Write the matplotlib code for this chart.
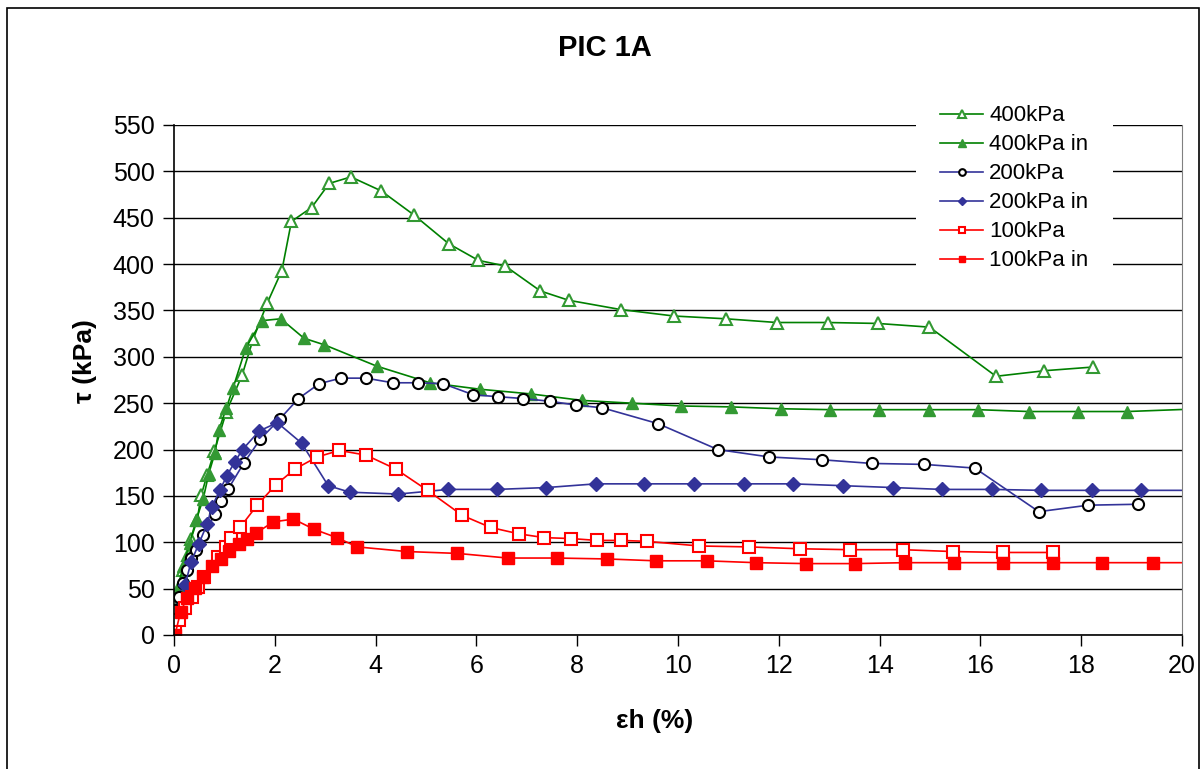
import matplotlib
matplotlib.use('Agg')
import matplotlib.pyplot as plt
from matplotlib.patches import Rectangle

plt.rcParams['font.family'] = ['Liberation Sans', 'DejaVu Sans']

# 400kPa (open triangles)
e_400 = [0.0, 0.05, 0.11, 0.18, 0.28, 0.34, 0.46, 0.54, 0.66, 0.80, 1.04, 1.35, 1.57,
         1.85, 2.14, 2.33, 2.73, 3.08, 3.51, 4.11, 4.76, 5.45, 6.04, 6.57, 7.27, 7.83,
         8.86, 9.92, 10.95, 11.96, 12.97, 13.96, 14.99, 16.31, 17.27, 18.24]
t_400 = [13, 27, 48, 70, 86, 104, 124, 151, 173, 198, 241, 280, 319,
         358, 393, 446, 461, 487, 494, 479, 453, 422, 404, 398, 371, 361,
         351, 344, 341, 337, 337, 336, 332, 279, 285, 289]

# 400kPa in (filled triangles)
e_400in = [0.0, 0.03, 0.08, 0.18, 0.31, 0.44, 0.58, 0.69, 0.81, 0.89, 1.04, 1.17, 1.42,
           1.74, 2.12, 2.58, 2.98, 4.02, 5.08, 6.08, 7.08, 8.09, 9.08, 10.05, 11.05,
           12.04, 13.02, 13.99, 14.99, 15.96, 16.96, 17.94, 18.91, 20.4]
t_400in = [13, 27, 52, 74, 99, 124, 147, 174, 196, 221, 245, 266, 309,
           339, 341, 320, 313, 290, 272, 265, 260, 253, 250, 247, 246,
           244, 243, 243, 243, 243, 241, 241, 241, 244]

# 200kPa (open circles)
e_200 = [0.0, 0.02, 0.09, 0.18, 0.26, 0.34, 0.44, 0.58, 0.82, 0.94, 1.07, 1.38, 1.71,
         2.10, 2.47, 2.88, 3.31, 3.81, 4.34, 4.85, 5.34, 5.94, 6.43, 6.93, 7.47, 7.97,
         8.50, 9.60, 10.79, 11.81, 12.85, 13.85, 14.88, 15.89, 17.16, 18.14, 19.13]
t_200 = [14, 27, 41, 56, 70, 83, 92, 108, 131, 144, 157, 185, 211,
         233, 255, 271, 277, 277, 272, 272, 271, 259, 257, 255, 252, 248,
         245, 228, 200, 192, 189, 185, 184, 180, 133, 140, 141]

# 200kPa in (diamonds)
e_200in = [0.22, 0.34, 0.49, 0.66, 0.75, 0.91, 1.05, 1.21, 1.36, 1.69, 2.05, 2.53, 3.06,
           3.49, 4.45, 5.44, 6.40, 7.39, 8.37, 9.33, 10.32, 11.30, 12.28, 13.28, 14.27,
           15.24, 16.24, 17.21, 18.21, 19.18, 20.4]
t_200in = [54, 79, 98, 120, 138, 156, 172, 187, 200, 220, 229, 207, 161,
           154, 152, 157, 157, 159, 163, 163, 163, 163, 163, 161, 159,
           157, 157, 156, 156, 156, 156]

# 100kPa (open squares)
e_100 = [0.02, 0.09, 0.22, 0.35, 0.47, 0.60, 0.88, 1.03, 1.14, 1.31, 1.65, 2.02, 2.40,
         2.84, 3.28, 3.81, 4.40, 5.03, 5.72, 6.28, 6.85, 7.35, 7.88, 8.39, 8.87, 9.38,
         10.42, 11.41, 12.42, 13.41, 14.46, 15.45, 16.45, 17.45]
t_100 = [7, 16, 29, 41, 52, 63, 84, 95, 105, 116, 140, 162, 179,
         192, 199, 194, 179, 156, 129, 116, 109, 105, 104, 102, 102, 101,
         96, 95, 93, 92, 92, 90, 89, 89]

# 100kPa in (filled squares)
e_100in = [0.02, 0.13, 0.26, 0.42, 0.58, 0.75, 0.93, 1.09, 1.28, 1.44, 1.63, 1.97, 2.37,
           2.78, 3.23, 3.64, 4.62, 5.62, 6.62, 7.59, 8.60, 9.56, 10.57, 11.54, 12.54,
           13.51, 14.50, 15.48, 16.45, 17.45, 18.42, 19.42, 20.4]
t_100in = [0, 25, 40, 51, 63, 74, 82, 91, 98, 103, 110, 122, 125,
           114, 105, 95, 90, 88, 83, 83, 82, 80, 80, 78, 77,
           77, 78, 78, 78, 78, 78, 78, 78]

green_line = '#008000'
green_mark = '#339933'
blue = '#333399'
red = '#FF0000'

fig = plt.figure(figsize=(12.04, 7.69), dpi=100)
ax = fig.add_axes([174 / 1204, 1 - 635 / 769, 1008 / 1204, 510 / 769])

lw = 1.2
ax.plot(e_400, t_400, color=green_line, lw=lw, marker='^', ms=9, mfc='white',
        mec=green_mark, mew=1.5, label='400kPa')
ax.plot(e_400in, t_400in, color=green_line, lw=lw, marker='^', ms=9, mfc=green_mark,
        mec=green_mark, label='400kPa in')
ax.plot(e_200, t_200, color=blue, lw=lw, marker='o', ms=8, mfc='white',
        mec='black', mew=1.5, label='200kPa')
ax.plot(e_200in, t_200in, color=blue, lw=lw, marker='D', ms=7, mfc=blue,
        mec=blue, label='200kPa in')
ax.plot(e_100, t_100, color=red, lw=lw, marker='s', ms=8, mfc='white',
        mec=red, mew=1.5, label='100kPa')
ax.plot(e_100in, t_100in, color=red, lw=lw, marker='s', ms=8, mfc=red,
        mec=red, label='100kPa in')

ax.set_xlim(0, 20)
ax.set_ylim(0, 550)
ax.set_xticks(range(0, 21, 2))
ax.set_yticks(range(0, 551, 50))
ax.yaxis.grid(True, color='black', lw=1)
ax.set_axisbelow(True)
ax.tick_params(labelsize=18, length=8, width=1, direction='out', pad=6)
ax.spines['top'].set_visible(False)
ax.spines['right'].set_color('#808080')
ax.spines['left'].set_linewidth(1.2)
ax.spines['bottom'].set_linewidth(1.2)

ax.set_xlabel('εh (%)', fontsize=19, fontweight='bold')
ax.xaxis.set_label_coords(0.477, -0.145)
ax.set_ylabel('τ (kPa)', fontsize=19, fontweight='bold')
ax.yaxis.set_label_coords(-0.076, 0.537)

fig.text(0.5025, 1 - 48 / 769, 'PIC 1A', ha='center', va='center',
         fontsize=21, fontweight='bold')

leg = ax.legend(loc='upper left', bbox_to_anchor=(916 / 1204, 1 - 81 / 769),
                bbox_transform=fig.transFigure, fontsize=16, frameon=True,
                fancybox=False, edgecolor='none', facecolor='white', framealpha=1,
                borderpad=1.1, labelspacing=0.36, handlelength=1.9,
                handletextpad=0.3, markerscale=0.6, borderaxespad=0)
leg.set_zorder(5)

# chart area border
fig.patches.append(Rectangle((7 / 1204, -0.01), 1192 / 1204, 1 - 8 / 769 + 0.01,
                             transform=fig.transFigure, fill=False,
                             edgecolor='black', lw=1.2))

fig.savefig('out.png', dpi=100, facecolor='white')
plt.close(fig)
